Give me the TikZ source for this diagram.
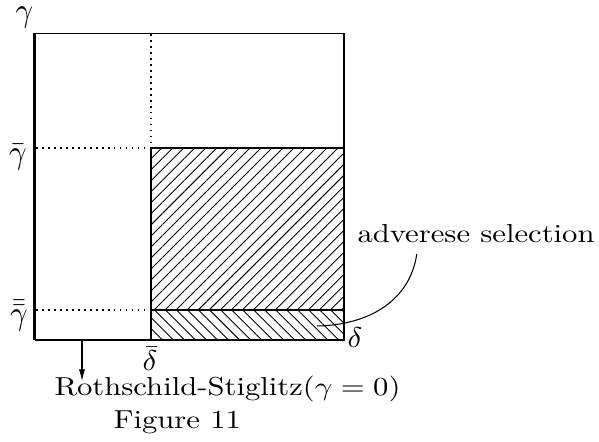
\documentclass[tikz,border=0pt]{standalone}
\usepackage{amsmath}
\usepackage{amssymb}
\usetikzlibrary{patterns.meta,arrows.meta}
\newcommand{\strw}[1]{\scalebox{1.18}[1]{#1}}
\newcommand{\strg}[1]{\scalebox{1.18}[1.3]{#1}}

\begin{document}
\begin{tikzpicture}[x=0.385pt,y=-0.385pt]
		\tikzset{dotline/.style={line width=0.7pt,dash pattern=on 0.7pt off 1.6pt}};
		\tikzset{hatchup/.style={pattern={Lines[angle=45,distance=3pt,line width=0.35pt]}}};
		\tikzset{hatchdown/.style={pattern={Lines[angle=-45,distance=3pt,line width=0.35pt]}}};
		\useasboundingbox (0,0) rectangle (599,442);
		\fill[hatchup] (151,148) rectangle (344,310);
		\fill[hatchdown] (151,310) rectangle (344,340);
		\draw[line width=0.5pt] (35,33.5) -- (344,33.5) -- (344,340) -- (35,340);
		\draw[line width=0.8pt] (34.5,33) -- (34.5,340.5);
		\draw[line width=0.5pt] (151,340) -- (151,148) -- (344,148);
		\draw[line width=0.5pt] (151,310) -- (344,310);
		\draw[dotline] (151,34) -- (151,148);
		\draw[dotline] (36,148) -- (151,148);
		\draw[dotline] (36,310) -- (151,310);
		
		\draw[] (24.5,17.5) node[inner sep=0pt] (gam) {\strg{$\gamma$}};
		\draw[] (18,157) node[inner sep=0pt] (gambar) {\strg{$\bar\gamma$}};
		\draw[] (19,316) node[inner sep=0pt] (gambb) {\strg{$\bar{\bar\gamma}$}};
		\draw[] (150,359) node[inner sep=0pt] (delbar) {\scalebox{1.18}[1.1]{$\bar\delta$}};
		\draw[] (355,338) node[inner sep=0pt] (del) {\scalebox{1.18}[1.1]{$\delta$}};
		
		\draw[] (357,243) node[anchor=base west,inner sep=0pt] (adv) {\strw{adverese selection}};
		\draw[] (54,395) node[anchor=base west,inner sep=0pt] (rs) {\strw{Rothschild-Stiglitz($\gamma=0$)}};
		\draw[] (113,428) node[anchor=base west,inner sep=0pt] (fig) {\strw{Figure 11}};
		
		\coordinate (advtip) at (317,326);
		\coordinate (rsfoot) at (82,340);
		\draw[line width=0.4pt] ([xshift=23pt,yshift=-4pt]adv.south west) .. controls (410,300) and (370,325) .. (advtip);
		\draw[-{Latex[length=4.5pt,width=2.4pt]}, line width=0.4pt] (rsfoot) -- (rsfoot |- rs.north) -- ++(0,6);
	\end{tikzpicture}
\end{document}
